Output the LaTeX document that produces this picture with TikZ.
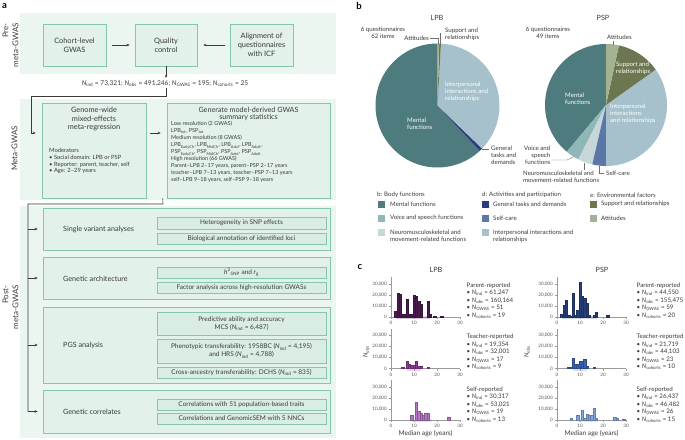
\documentclass[tikz,border=0pt]{standalone}
\usepackage{fontspec}
\setmainfont{Lato}
\usetikzlibrary{arrows.meta,calc}
\definecolor{band}{HTML}{ECF6F1}
\definecolor{boxfill}{HTML}{E2F1EA}
\definecolor{innerfill}{HTML}{DAEDE4}
\definecolor{boxline}{HTML}{86C7AC}
\definecolor{txt}{HTML}{3A3A3A}
\definecolor{arrc}{HTML}{3A3A3A}
\definecolor{leadc}{HTML}{707070}
\definecolor{axisc}{HTML}{9A9A9A}
\definecolor{cMental}{HTML}{4E7B7E}
\definecolor{cVoice}{HTML}{8FB7B7}
\definecolor{cNeuro}{HTML}{C7D7D9}
\definecolor{cGeneral}{HTML}{2C3C78}
\definecolor{cSelf}{HTML}{5B77A7}
\definecolor{cInter}{HTML}{A6C1CB}
\definecolor{cSupport}{HTML}{6C7752}
\definecolor{cAtt}{HTML}{A3B392}
\definecolor{lpbP}{HTML}{4B1B50}
\definecolor{lpbT}{HTML}{8A3C98}
\definecolor{lpbS}{HTML}{B476C3}
\definecolor{pspP}{HTML}{26407A}
\definecolor{pspT}{HTML}{3C63B2}
\definecolor{pspS}{HTML}{86A5DD}
\newcommand\pieslice[6]{\fill[#6] (#1,#2) -- ++(-#4:#3) arc[start angle=-#4, end angle=-#5, radius=#3] -- cycle;}
\newcommand\NN[1]{\textit{N}\textsubscript{#1}}
\newcommand\histbars[4]{\foreach \ag/\vl in {#4} {\filldraw[fill=#3, draw=#3!75!black, line width=0.25pt] ({#1+(\ag-0.5)*2.3},#2) rectangle ({#1+(\ag+0.5)*2.3},{#2-\vl*1.1});}}
\newcommand\histband[5]{\fill[#5] ({#1+#3*2.3},{#2-1}) rectangle ({#1+#4*2.3},{#2+2});}
\newcommand\histaxes[2]{%
  \draw[axl] (#1,#2) -- (#1,{#2-40});
  \draw[axl] (#1,#2) -- ({#1+69},#2);
  \foreach \tk in {0,10,20,30} {\draw[axl] ({#1+\tk*2.3},#2) -- ({#1+\tk*2.3},{#2+2}); \node[ticklab, anchor=north] at ({#1+\tk*2.3},{#2+4}) {\tk};}
  \foreach \tk/\lab in {0/0,10/{10,000},20/{20,000},30/{30,000}} {\draw[axl] (#1,{#2-\tk*1.1}) -- ({#1-2},{#2-\tk*1.1}); \node[ticklab, anchor=east] at ({#1-4},{#2-\tk*1.1}) {\lab};}
}
\begin{document}
\begin{tikzpicture}[x=1pt,y=-1pt,
  every node/.style={text=txt, inner sep=0pt},
  box/.style={draw=boxline, fill=boxfill, line width=0.6pt, align=center, font=\fontsize{7.4}{9}\selectfont},
  btext/.style={align=center, font=\fontsize{7.4}{8.8}\selectfont},
  ibox/.style={draw=boxline, fill=innerfill, line width=0.5pt, align=center, font=\fontsize{6.5}{7.8}\selectfont, minimum width=169pt},
  obox/.style={draw=boxline, fill=boxfill, line width=0.6pt, minimum width=287pt},
  arr/.style={-{Stealth[length=3pt,width=2.6pt]}, line width=0.55pt, draw=arrc},
  conn/.style={line width=0.55pt, draw=arrc},
  plabel/.style={font=\fontsize{7.2}{8.5}\selectfont, anchor=west},
  side/.style={font=\fontsize{8}{10}\selectfont, rotate=90, align=right},
  small/.style={font=\fontsize{5.5}{7}\selectfont, align=left},
  pietxt/.style={font=\fontsize{6.1}{7.2}\selectfont, align=left},
  leader/.style={draw=leadc, line width=0.4pt},
  axl/.style={draw=axisc, line width=0.4pt},
  ticklab/.style={font=\fontsize{4.6}{5}\selectfont, text=black!65},
  stat/.style={font=\fontsize{6.2}{7.5}\selectfont, align=left},
  panel/.style={font=\bfseries\fontsize{9.5}{10}\selectfont, text=black}
]
\useasboundingbox (0,0) rectangle (685,439);
\fill[white] (0,0) rectangle (685,439);
% ---------------- panel a ----------------
\fill[band] (20,13) rectangle (336,74);
\fill[band] (20,99) rectangle (336,200);
\fill[band] (20,206) rectangle (336,438);
\node[panel] (la) at (4.5,6) {a};
\node[side, anchor=east] (spre) at (10.5,23) {Pre-\\meta-GWAS};
\node[side] (smeta) at (14.5,148.5) {Meta-GWAS};
\node[side, anchor=east] (spost) at (10.5,285) {Post-\\meta-GWAS};

\node[box, minimum width=63pt, minimum height=42pt] (cohort) at (74.5,45) {Cohort-level\\GWAS};
\node[box, minimum width=62pt, minimum height=42pt] (qc) at (166,45) {Quality\\control};
\node[box, minimum width=63pt, minimum height=42pt] (align) at (261.5,45) {Alignment of\\questionnaires\\with ICF};
\draw[arr, shorten <=6pt, shorten >=5pt] (cohort) -- (qc);
\draw[arr, shorten <=5pt, shorten >=6pt] (align) -- (qc);
\node[font=\fontsize{6.6}{8}\selectfont] (nline) at (165,84) {\NN{ind} = 73,321; \NN{obs} = 491,246; \NN{GWAS} = 195; \NN{cohorts} = 25};
\draw[arr, shorten >=3pt] (qc.south) -- (qc.south |- nline.north);

\node[box, minimum width=104pt, minimum height=95pt] (genome) at (94,150.5) {};
\node[btext] (gtitle) at (94,119) {Genome-wide\\mixed-effects\\meta-regression};
\node[small, anchor=north west, font=\fontsize{5.8}{6.8}\selectfont] (gmod) at (49,148) {Moderators\\• Social domain: LPB or PSP\\• Reporter: parent, teacher, self\\• Age: 2–29 years};
\node[box, minimum width=163pt, minimum height=95pt] (gen) at (248.5,150.5) {};
\node[btext, font=\fontsize{7.2}{7.8}\selectfont] (gtitle2) at (248.5,114) {Generate model-derived GWAS\\summary statistics};
\node[small, anchor=north west] (gtext) at (171,121.5) {Low resolution (2 GWAS)\\
LPB\textsubscript{tot}, PSP\textsubscript{tot}\\
Medium resolution (8 GWAS)\\
LPB\textsubscript{EarlyCh}, LPB\textsubscript{MidCh}, LPB\textsubscript{Adol}, LPB\textsubscript{Adult},\\
PSP\textsubscript{EarlyCh}, PSP\textsubscript{MidCh}, PSP\textsubscript{Adol}, PSP\textsubscript{Adult}\\
High resolution (66 GWAS)\\
Parent–LPB 2–17 years, parent–PSP 2–17 years\\
teacher–LPB 7–13 years, teacher–PSP 7–13 years\\
self–LPB 9–18 years, self–PSP 9–18 years};
\coordinate (gA) at (0,133);
\draw[arr, shorten >=6pt] ($(qc.south |- nline.south)+(0,1)$) |- (31,96) -- (31,133) -- (genome.west |- gA);
\draw[arr, shorten <=4pt, shorten >=6pt] (genome.east |- gA) -- (gen.west |- gA);

\node[obox, minimum height=42pt] (p1) at (186.5,229) {};
\node[plabel] (l1) at (63,230) {Single variant analyses};
\node[ibox, minimum height=12pt] (i1a) at (241.5,223) {Heterogeneity in SNP effects};
\node[ibox, minimum height=11pt] (i1b) at (241.5,238.5) {Biological annotation of identified loci};

\node[obox, minimum height=42pt] (p2) at (186.5,278) {};
\node[plabel] (l2) at (63,279) {Genetic architecture};
\node[ibox, minimum height=11pt] (i2a) at (241.5,272.5) {\textit{h}\textsuperscript{2}\textsubscript{SNP} and \textit{r}\textsubscript{g}};
\node[ibox, minimum height=11pt] (i2b) at (241.5,287.5) {Factor analysis across high-resolution GWASs};

\node[obox, minimum height=76pt] (p3) at (186.5,345) {};
\node[plabel] (l3) at (63,345) {PGS analysis};
\node[ibox, minimum height=23pt] (i3a) at (241.5,323.5) {Predictive ability and accuracy\\MCS (\NN{ind} = 6,487)};
\node[ibox, minimum height=24pt] (i3b) at (241.5,351) {Phenotypic transferability: 1958BC (\NN{ind} = 4,195)\\and HRS (\NN{ind} = 4,788)};
\node[ibox, minimum height=11pt] (i3c) at (241.5,372.5) {Cross-ancestry transferability: DCHS (\NN{ind} = 835)};

\node[obox, minimum height=43pt] (p4) at (186.5,411.5) {};
\node[plabel] (l4) at (63,412) {Genetic correlates};
\node[ibox, minimum height=11pt] (i4a) at (241.5,405) {Correlations with 51 population-based traits};
\node[ibox, minimum height=11pt] (i4b) at (241.5,418.5) {Correlations and GenomicSEM with 5 NNCs};

\coordinate (trunk) at (28,204);
\draw[conn] ($(gen.south west)+(-4,0)$) -- (163,204) -- (trunk) -- (trunk |- p4.west);
\foreach \p in {p1,p2,p3,p4} \draw[arr, shorten >=5pt] (\p.west -| trunk) -- (\p.west);

% ---------------- panel b ----------------
\node[panel] (lb) at (359,6) {b};
\node[font=\fontsize{7.2}{8}\selectfont] (tb1) at (437,18) {LPB};
\node[font=\fontsize{7.2}{8}\selectfont] (tb2) at (603,18) {PSP};
\pieslice{437.5}{105.5}{62}{90}{313}{cMental}
\pieslice{437.5}{105.5}{62}{313}{316}{cGeneral}
\pieslice{437.5}{105.5}{62}{316}{446.8}{cInter}
\pieslice{437.5}{105.5}{62}{446.8}{448.5}{cSupport}
\pieslice{437.5}{105.5}{62}{448.5}{450}{cAtt}
\pieslice{606}{105}{61}{90}{230}{cMental}
\pieslice{606}{105}{61}{230}{243}{cVoice}
\pieslice{606}{105}{61}{243}{257}{cNeuro}
\pieslice{606}{105}{61}{257}{270}{cSelf}
\pieslice{606}{105}{61}{270}{395.5}{cInter}
\pieslice{606}{105}{61}{395.5}{437.8}{cSupport}
\pieslice{606}{105}{61}{437.8}{450}{cAtt}

\node[pietxt, align=center] (q1) at (383,32.5) {6 questionnaires\\62 items};
\node[pietxt, anchor=east] (att1) at (429,38) {Attitudes};
\draw[leader] ($(att1.east)+(1,0)$) -- (438.5,38) -- (438.5,43.6);
\node[pietxt, anchor=west] (sup1) at (445,34.5) {Support and\\relationships};
\draw[leader] (440.5,43.6) -- (440.5,33);
\node[pietxt, text=white, anchor=west] (int1) at (445,92) {Interpersonal\\interactions and\\relationships};
\node[pietxt, text=white, anchor=west] (men1) at (407,123.5) {Mental\\functions};
\node[pietxt, anchor=west] (gen1) at (491,155.5) {General\\tasks and\\demands};
\draw[leader] (481.5,149) -- (489,149);

\node[pietxt, align=center] (q2) at (548,32.5) {6 questionnaires\\49 items};
\node[pietxt, anchor=west] (att2) at (607,37.5) {Attitudes};
\draw[leader] (613,40.5) -- (613,44.5);
\node[pietxt, text=white, anchor=west] (sup2) at (616,68) {Support and\\relationships};
\node[pietxt, text=white, anchor=west] (int2) at (610,114) {Interpersonal\\interactions\\and relationships};
\node[pietxt, text=white, anchor=west] (men2) at (565,98.5) {Mental\\functions};
\node[pietxt, align=right, anchor=east] (voi2) at (550.5,155) {Voice and\\speech\\functions};
\draw[leader] (552,160) -- (567,160) -- (573.7,156.7);
\node[pietxt, anchor=west] (neu2) at (523,177) {Neuromusculoskeletal and\\movement-related functions};
\draw[leader] (584,163) -- (584,170);
\node[pietxt, anchor=west] (sc2) at (606,173) {Self-care};
\draw[leader] (599,166) -- (599,173) -- (604,173);

% legend
\node[pietxt, anchor=west] (lgb) at (377,195) {b: Body functions};
\node[pietxt, anchor=west] (lgd) at (482,195) {d: Activities and participation};
\node[pietxt, anchor=west] (lge) at (590,195) {e: Environmental factors};
\fill[cMental] (378,200.5) rectangle (385,207.5);
\node[pietxt, anchor=west] (lg1) at (390,204) {Mental functions};
\fill[cVoice] (378,214.5) rectangle (385,221.5);
\node[pietxt, anchor=west] (lg2) at (390,218) {Voice and speech functions};
\fill[cNeuro] (378,228.5) rectangle (385,235.5);
\node[pietxt, anchor=north west] (lg3) at (390,229.5) {Neuromusculoskeletal and\\movement-related functions};
\fill[cGeneral] (482,200.5) rectangle (489,207.5);
\node[pietxt, anchor=west] (lg4) at (493,204) {General tasks and demands};
\fill[cSelf] (482,214.5) rectangle (489,221.5);
\node[pietxt, anchor=west] (lg5) at (493,218) {Self-care};
\fill[cInter] (482,228.5) rectangle (489,235.5);
\node[pietxt, anchor=north west] (lg6) at (493,229.5) {Interpersonal interactions and\\relationships};
\fill[cSupport] (590,200.5) rectangle (597,207.5);
\node[pietxt, anchor=west] (lg7) at (601,204) {Support and relationships};
\fill[cAtt] (590,214.5) rectangle (597,221.5);
\node[pietxt, anchor=west] (lg8) at (601,218) {Attitudes};

% ---------------- panel c ----------------
\node[panel] (lc) at (360,267) {c};
\node[font=\fontsize{7.2}{8}\selectfont] (tc1) at (436,270) {LPB};
\node[font=\fontsize{7.2}{8}\selectfont] (tc2) at (602,270) {PSP};
% LPB
\histband{391}{317}{2}{17}{lpbP!22}
\histband{391}{368.5}{7}{13}{lpbT!22}
\histband{391}{420}{9}{18}{lpbS!25}
\histaxes{391}{317}
\histaxes{391}{368.5}
\histaxes{391}{420}
\histbars{391}{317}{lpbP}{2/5,3/22,4/21,5/3,6/3,7/16,8/3,9/3,10/20,11/19,12/14,13/12,16/14,17/3,19/1,22/1}
\histbars{391}{368.5}{lpbT}{5/1,7/7,8/4,9/3.5,10/3,11/7,12/2,13/2,16/1}
\histbars{391}{420}{lpbS}{9/4,11/16,12/8,13/6,14/4,15/6.5,16/6.5,25/3}
% PSP
\histband{557}{317}{2}{17}{pspP!20}
\histband{557}{368.5}{7}{13}{pspT!20}
\histband{557}{420}{9}{18}{pspS!25}
\histaxes{557}{317}
\histaxes{557}{368.5}
\histaxes{557}{420}
\histbars{557}{317}{pspP}{2/3,3/11,4/15,5/2,6/1,7/22,8/2,9/6,10/32,11/19,12/17,13/13,14/2,16/2,17/4,22/1.5}
\histbars{557}{368.5}{pspT}{5/1,6/1,7/9,8/4,9/4,10/7,11/6.5,12/8.5,13/2,16/1}
\histbars{557}{420}{pspS}{6/2,9/4,11/9,12/2,13/5,14/4,15/4,16/11,17/2,25/3,26/1.5,29/1}

\node[font=\fontsize{6.6}{8}\selectfont] (xl1) at (425.5,433.5) {Median age (years)};
\node[font=\fontsize{6.6}{8}\selectfont] (xl2) at (591.5,433.5) {Median age (years)};
\node[font=\fontsize{6.2}{8}\selectfont, rotate=90] (yl1) at (366,352) {\NN{obs}};
\node[font=\fontsize{6.2}{8}\selectfont, rotate=90] (yl2) at (527,352) {\NN{obs}};

\node[stat, anchor=north west] (s11) at (466.5,282.5) {Parent-reported\\• \NN{ind} = 61,247\\• \NN{obs} = 160,164\\• \NN{GWAS} = 51\\• \NN{cohorts} = 19};
\node[stat, anchor=north west] (s12) at (466.5,334) {Teacher-reported\\• \NN{ind} = 19,354\\• \NN{obs} = 32,001\\• \NN{GWAS} = 17\\• \NN{cohorts} = 9};
\node[stat, anchor=north west] (s13) at (466.5,386.5) {Self-reported\\• \NN{ind} = 30,317\\• \NN{obs} = 53,021\\• \NN{GWAS} = 19\\• \NN{cohorts} = 13};
\node[stat, anchor=north west] (s21) at (636.5,282.5) {Parent-reported\\• \NN{ind} = 44,550\\• \NN{obs} = 155,475\\• \NN{GWAS} = 59\\• \NN{cohorts} = 20};
\node[stat, anchor=north west] (s22) at (636.5,334) {Teacher-reported\\• \NN{ind} = 21,719\\• \NN{obs} = 44,103\\• \NN{GWAS} = 23\\• \NN{cohorts} = 10};
\node[stat, anchor=north west] (s23) at (636.5,386.5) {Self-reported\\• \NN{ind} = 26,437\\• \NN{obs} = 46,482\\• \NN{GWAS} = 26\\• \NN{cohorts} = 15};
\end{tikzpicture}
\end{document}
